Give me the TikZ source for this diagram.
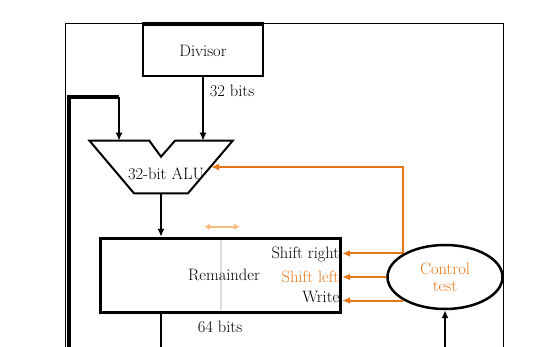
\documentclass[tikz,border=0pt]{standalone}
\usepackage{fontspec}
\usetikzlibrary{arrows.meta,shapes.geometric}
\definecolor{ctrl}{RGB}{232,118,22}
\definecolor{lightor}{RGB}{246,188,130}
\begin{document}
\begin{tikzpicture}[x=1pt,y=-1pt,
  every node/.style={font=\fontsize{16.5}{19}\selectfont},
  tip/.style={-{Latex[length=8pt,width=7pt]}},
  blk/.style={line width=2pt},
  org/.style={line width=2pt, draw=ctrl},
  thickline/.style={line width=3.5pt}]
\useasboundingbox (0,0) rectangle (557,347);
% frame
\draw[line width=0.9pt] (65,347) -- (65,23) -- (503,23) -- (503,347);
% divisor
\node (div) at (203,50.5) [rectangle, draw, line width=2pt, minimum width=120pt, minimum height=51pt, inner sep=0pt] {Divisor};
\draw[thickline] (div.north west) -- (div.north east);
% ALU
\coordinate (aluTL) at (89.5,140.7);
\coordinate (aluL) at (119,140.7);
\coordinate (aluNL) at (149.3,140.7);
\coordinate (aluNB) at (161,156.7);
\coordinate (aluNR) at (175,140.7);
\coordinate (aluR) at (203,140.7);
\coordinate (aluTR) at (232.7,140.7);
\coordinate (aluBR) at (188,193.3);
\coordinate (aluBL) at (134,193.3);
\coordinate (aluB) at (161,193.3);
\coordinate (aluIn) at (211,167);
\draw[line width=2pt, line join=miter] (aluTL) -- (aluNL) -- (aluNB) -- (aluNR) -- (aluTR) -- (aluBR) -- (aluBL) -- cycle;
\node (alu) at (166,174) {32-bit ALU};
% remainder
\draw[gray!25, line width=1.8pt] (220.7,238.3) -- (220.7,312.3);
\node (rem) at (220.35,275.3) [rectangle, draw, line width=3pt, minimum width=240.7pt, minimum height=74pt, inner sep=0pt] {};
\node (remt) at (224,275) {Remainder};
\node (sr) [anchor=east, inner sep=0.5pt] at (340,254) {Shift right};
\node (sl) [anchor=east, inner sep=0.5pt, text=ctrl] at (340,276.5) {Shift left};
\node (wr) [anchor=east, inner sep=0.5pt] at (340,297) {Write};
\coordinate (da) at (204,226.7);
\coordinate (db) at (240,226.7);
\draw[lightor, line width=2pt, {Latex[length=6pt,width=6.5pt]}-{Latex[length=6pt,width=6.5pt]}] (da) -- (db);
% control
\node (ctl) at (445,277) [ellipse, draw, line width=2.5pt, minimum width=115pt, minimum height=64pt, inner sep=0pt, align=center, text=ctrl] {Control\\[-2pt]test};
% labels
\node (l32) at (232,91) {32 bits};
\node (l64) at (220,327) {64 bits};
% black connectors
\draw[blk, tip] (div.south) -- (aluR);
\coordinate (lb) at (69,347);
\coordinate (lc) at (119,97);
\draw[thickline] (lb) |- (lc);
\draw[blk, tip] (lc) -- (aluL);
\draw[blk, tip] (aluB) -- (aluB |- rem.north);
\coordinate (remOut) at (161,347);
\draw[blk] (aluB |- rem.south) -- (remOut);
\coordinate (ctlIn) at (445,347);
\draw[blk, tip] (ctlIn) -- (ctl.south);
% orange connectors
\draw[org, tip, ctrl] (ctl.north west) -- (ctl.north west -| rem.east);
\draw[org, tip, ctrl] (ctl.west) -- (ctl.west -| rem.east);
\draw[org, tip, ctrl] (ctl.south west) -- (ctl.south west -| rem.east);
\draw[org, tip, ctrl] (ctl.north west) -- (ctl.north west |- aluIn) -- (aluIn);
\end{tikzpicture}
\end{document}
